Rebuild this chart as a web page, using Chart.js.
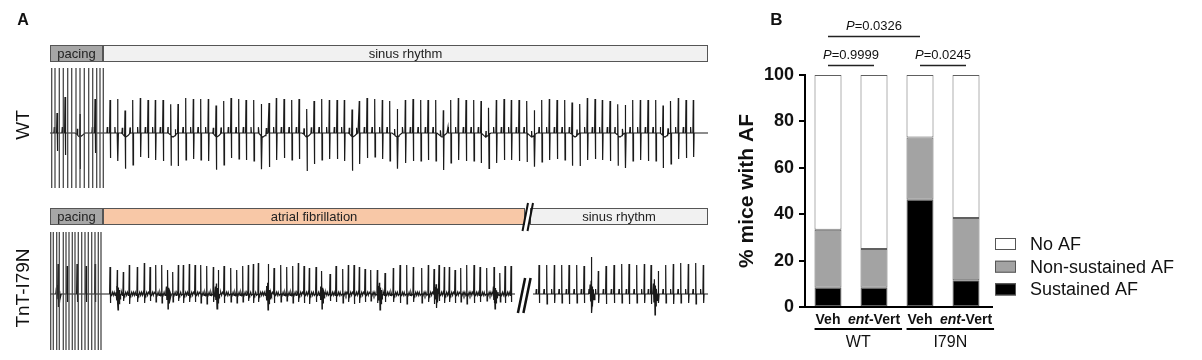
<!DOCTYPE html>
<html>
<head>
<meta charset="utf-8">
<script src="https://cdn.jsdelivr.net/npm/chart.js@4.4.1/dist/chart.umd.min.js"></script>
<style>
  body { margin: 0; background: #fff; width: 1202px; height: 360px; overflow: hidden; position: relative; }
  canvas { position: absolute; }
</style>
</head>
<body>
<canvas id="wtTrace" width="730" height="190" style="left:0;top:0;width:730px;height:190px"></canvas>
<canvas id="tntTrace" width="730" height="170" style="left:0;top:190px;width:730px;height:170px"></canvas>
<canvas id="afBars" width="472" height="360" style="left:730px;top:0;width:472px;height:360px"></canvas>
<script>
// Panel A - ECG traces (time in trace units, amplitude in trace units above baseline)
const wtPacingT = [1.7, 5, 9.3, 13.3, 17.7, 21.7, 26, 30, 34.3, 38.7, 42.7, 46.7, 50, 53.3];
const wtBeatT = [7, 15, 30, 45,
  60, 67.6, 75, 82.7, 90.3, 98, 105.3, 113, 120.7, 128, 135.7, 143.3, 150.7, 158.3, 166, 173.7, 181, 188.7, 196, 203.7,
  211.3, 219, 226.3, 234, 241.7, 249, 256.7, 264, 271.7, 279.3, 287, 294.3, 302, 309.3, 317, 324.7, 332.3, 339.7, 347.3,
  355.3, 363, 370.7, 378, 385.7, 393.3, 400.7, 408.3, 416, 423.7, 431, 438.7, 446.3, 454, 461.3, 469, 476.7, 484.3, 491.7,
  499.3, 507, 514.7, 522, 529.7, 537.3, 545, 552.3, 560, 567.7, 575.3, 582.7, 590.3, 598, 605.7, 613, 620.7, 628.3, 636, 643.3];
const wtBeatUp = [20, 36, 23, 34,
  33, 34, 26, 33, 35, 33, 33, 33, 31, 29, 35, 34, 34, 34, 31, 32, 35, 34, 33, 33, 32, 30, 35, 34, 33, 34, 28, 32, 34, 33,
  33, 33, 27, 32, 35, 34, 33, 32, 28,
  33, 34, 33, 33, 33, 26, 33, 35, 33, 33, 32, 27, 33, 34, 33, 33, 32, 25, 33, 34, 33, 33, 32, 29, 35, 34, 33, 32, 31, 28,
  33, 33, 33, 33, 30, 32, 35, 33, 33];
const wtBeatDown = [18, 22, 32, 20,
  25, 28, 32, 32, 24, 25, 27, 28, 30, 33, 27, 26, 27, 28, 33, 32, 25, 26, 27, 28, 33, 34, 27, 25, 27, 26, 34, 31, 27, 26,
  26, 28, 34, 31, 25, 24, 26, 28, 32,
  30, 28, 28, 27, 28, 34, 30, 27, 28, 28, 30, 34, 30, 27, 27, 28, 29, 32, 29, 27, 26, 27, 31, 33, 27, 26, 27, 28, 30, 35,
  28, 27, 28, 28, 32, 31, 26, 25, 24];
const wtDipT = [30, 76, 123, 167, 213, 257, 303, 347, 392, 436, 482, 525, 570, 615];

const tntPacingT = [0.7, 3.3, 6.7, 9.3, 13.3, 16, 19, 22.3, 25, 28.3, 31.7, 35, 38.3, 41.7, 45, 48.3, 51];
const tntBeatT = [8, 17, 27, 36, 45,
  60, 67.3, 73.3, 79.3, 87.3, 94.3, 100, 105.7, 111.7, 117.7, 122.7, 128.3, 133.3, 139.3, 145, 150.7, 156.7, 163.3, 168.3, 174,
  180.7, 186.7, 192.7, 198.3, 203.3, 208.3, 218.3, 224, 230.7, 236.7, 242.7, 248.3, 254, 259.3, 266, 271.7, 280, 286, 292.7, 298.3,
  304, 309.3, 315, 320.7, 327.3, 335, 343.3, 350, 356.7, 363.3,
  371.7, 378.3, 384, 389, 394.3, 399.3, 405, 410.7, 416.7, 424, 430, 436.7, 444, 450, 455, 461,
  489, 496.7, 504.3, 511.7, 519, 526.7, 534, 541.7, 548.3, 556, 564, 571.7, 579, 586.7, 594.3, 601, 608.3, 615.7, 623.3, 630.7,
  638.3, 645.7, 653.3];
const tntBeatUp = [30, 28, 30, 28, 30,
  27, 24, 22, 29, 27, 31, 27, 29, 29, 24, 22, 29, 29, 30, 29, 29, 28, 27, 24, 28, 26, 24, 28, 29, 30, 31, 30, 26, 29, 27,
  28, 31, 28, 26, 27, 23, 20, 28, 25, 29, 29, 27, 25, 24, 24, 21, 26, 29, 29, 27,
  26, 29, 25, 29, 27, 27, 24, 26, 29, 29, 27, 26, 27, 21, 28, 28,
  29, 29, 29, 29, 29, 29, 28, 37, 23, 28, 29, 30, 30, 29, 30, 29, 23, 29, 30, 31, 30, 31, 29];
const tntBeatDown = [8, 8, 8, 8, 8,
  9, 8, 7, 10, 8, 9, 7, 8, 9, 10, 8, 7, 9, 8, 8, 9, 10, 8, 7, 9, 8, 9, 8, 7, 9, 8, 10, 9, 8, 7,
  9, 8, 9, 10, 8, 9, 7, 8, 9, 8, 10, 9, 8, 7, 9, 8, 8, 9, 10, 8,
  9, 8, 10, 7, 9, 8, 9, 8, 10, 9, 8, 7, 9, 8, 9, 8,
  9, 10, 9, 9, 10, 9, 9, 12, 9, 10, 9, 9, 10, 9, 9, 10, 9, 9, 10, 9, 9, 10, 9];
const tntBurstT = [8, 68, 118, 167, 218, 272, 330, 386.7, 445, 541.7, 605];
const tntBurstDepth = [13, 16, 15, 15, 16, 15, 16, 14, 15, 19, 21];

// Panel B - stacked bars
const groups = ["WT", "I79N"];
const treatments = ["Veh", "ent-Vert", "Veh", "ent-Vert"];
const sustainedAF = [8.3, 8.3, 46.2, 11.5];
const nonSustainedAF = [25.0, 16.7, 26.9, 26.9];
const noAF = [66.7, 75.0, 26.9, 61.6];
const comparisons = [
  { from: 0, to: 2, level: 2, p: "0.0326" },
  { from: 0, to: 1, level: 1, p: "0.9999" },
  { from: 2, to: 3, level: 1, p: "0.0245" },
];

const FONT = '"Liberation Sans", Arial, Helvetica, sans-serif';
Chart.defaults.font.family = FONT;
Chart.defaults.color = '#111';

function buildTrace(beatT, beatUp, beatDown, o) {
  let pts = [{ x: 0, y: 0 }];
  beatT.forEach((t, i) => {
    const pw = o.pWave ? o.pWave(t) : 0;
    if (pw) pts.push({ x: t - 3.1, y: 0 }, { x: t - 2.7, y: pw }, { x: t - 2.3, y: 0 });
    pts.push({ x: t - 0.4, y: 0 }, { x: t, y: beatUp[i] }, { x: t + 0.35, y: -beatDown[i] }, { x: t + 0.8, y: 0 });
    const next = beatT[i + 1];
    if (o.fWaves && next && t > o.fWaves[0] && next < o.fWaves[1]) {
      let k = 0;
      for (let s = t + 1.5; s < next - 0.8; s += 0.9) pts.push({ x: s, y: k++ % 2 ? 1.8 : -1.4 });
    }
  });
  (o.dips || []).forEach((d) => pts.push({ x: d - 5, y: 0 }, { x: d - 2, y: 0 }, { x: d, y: 0 }, { x: d + 2, y: 0 }, { x: d + 5, y: 0 }));
  (o.bursts || []).forEach((b, i) => {
    const d = o.burstDepth[i];
    [[-2.2, 0], [-1.6, 0.5], [-1.1, -0.4], [-0.6, 0.7], [0, -1], [0.5, 0.4], [1.0, -0.6], [1.6, 0.25], [2.3, -0.3], [3.2, 0]]
      .forEach(([dx, k]) => pts.push({ x: b + dx, y: k * d }));
  });
  if (o.dips) {
    pts.forEach((p) => {
      o.dips.forEach((d) => {
        const u = Math.max(0, 1 - Math.abs(p.x - d) / 5);
        p.y -= o.dipDepth * u * u * (3 - 2 * u);
      });
    });
  }
  pts.push({ x: 658, y: 0 });
  if (o.gap) {
    pts = pts.filter((p) => p.x <= o.gap[0] || p.x >= o.gap[1]);
    pts.push({ x: o.gap[0], y: 0 }, { x: o.gap[0] + 0.5, y: null }, { x: o.gap[1], y: 0 });
  }
  return pts.sort((a, b) => a.x - b.x);
}

function pacingLines(times, lo, hi) {
  const pts = [];
  times.forEach((t) => pts.push({ x: t, y: lo }, { x: t, y: hi }, { x: t, y: null }));
  return pts;
}

const rhythmBar = { // Rhythm annotation bar above each trace, side label, break marks
  id: 'rhythmBar',
  afterDraw(chart, args, opts) {
    const { ctx, chartArea: a, scales: { x, y } } = chart;
    const top = a.top - 23, h = 17;
    ctx.save();
    opts.segments.forEach((s) => {
      const x0 = x.getPixelForValue(s.from), x1 = x.getPixelForValue(s.to);
      ctx.fillStyle = s.color;
      ctx.fillRect(x0, top, x1 - x0, h);
      ctx.strokeStyle = '#555';
      ctx.lineWidth = 1;
      ctx.strokeRect(x0 + 0.5, top + 0.5, x1 - x0 - 1, h - 1);
      ctx.fillStyle = '#222';
      ctx.font = '13px ' + FONT;
      ctx.textAlign = 'center';
      ctx.textBaseline = 'middle';
      ctx.fillText(s.label, (x0 + x1) / 2, top + h / 2 + 0.5);
    });
    ctx.strokeStyle = '#111';
    ctx.lineWidth = 2;
    (opts.barBreak || []).forEach((t) => {
      ctx.beginPath();
      ctx.moveTo(x.getPixelForValue(t - 2.5), top + h + 6);
      ctx.lineTo(x.getPixelForValue(t + 3), top - 5);
      ctx.stroke();
    });
    ctx.lineWidth = 2.5;
    (opts.traceBreak || []).forEach((t) => {
      ctx.beginPath();
      ctx.moveTo(x.getPixelForValue(t - 3.6), y.getPixelForValue(-19));
      ctx.lineTo(x.getPixelForValue(t + 3.6), y.getPixelForValue(16));
      ctx.stroke();
    });
    ctx.fillStyle = '#111';
    ctx.font = '19px ' + FONT;
    ctx.translate(24, (a.top + a.bottom) / 2 - 4);
    ctx.rotate(-Math.PI / 2);
    ctx.textAlign = 'center';
    ctx.textBaseline = 'middle';
    ctx.fillText(opts.label, 0, 0);
    ctx.restore();
    if (opts.panel) {
      ctx.save();
      ctx.font = 'bold 16px ' + FONT;
      ctx.fillStyle = '#111';
      ctx.textAlign = 'center';
      ctx.textBaseline = 'middle';
      ctx.fillText(opts.panel, 23, 21);
      ctx.restore();
    }
  }
};

function traceChart(id, datasets, yMin, yMax, padTop, padBottom, barOpts) {
  return new Chart(document.getElementById(id), {
    type: 'scatter',
    data: { datasets },
    options: {
      responsive: false,
      animation: false,
      layout: { padding: { top: padTop, left: 50, right: 22, bottom: padBottom } },
      scales: {
        x: { type: 'linear', display: false, min: 0, max: 658 },
        y: { display: false, min: yMin, max: yMax },
      },
      plugins: { legend: { display: false }, tooltip: { enabled: false }, rhythmBar: barOpts },
    },
    plugins: [rhythmBar],
  });
}

const lineStyle = { showLine: true, pointRadius: 0, tension: 0, spanGaps: false };

traceChart('wtTrace', [
  { ...lineStyle, data: pacingLines(wtPacingT, -55, 65), borderColor: '#4a4a4a', borderWidth: 1.3 },
  { ...lineStyle, data: buildTrace(wtBeatT, wtBeatUp, wtBeatDown, { pWave: () => 6, dips: wtDipT, dipDepth: 4 }),
    borderColor: '#1a1a1a', borderWidth: 1.2 },
], -57, 65, 68, 0, {
  label: 'WT',
  panel: 'A',
  segments: [
    { from: 0, to: 53, label: 'pacing', color: '#a6a6a6' },
    { from: 53, to: 658, label: 'sinus rhythm', color: '#f1f1f1' },
  ],
});

traceChart('tntTrace', [
  { ...lineStyle, data: pacingLines(tntPacingT, -56, 62), borderColor: '#4a4a4a', borderWidth: 1.3 },
  { ...lineStyle, data: buildTrace(tntBeatT, tntBeatUp, tntBeatDown, {
      pWave: (t) => (t > 483 ? 5 : 0), fWaves: [53, 463], bursts: tntBurstT, burstDepth: tntBurstDepth, gap: [465, 483] }),
    borderColor: '#1a1a1a', borderWidth: 1.2 },
], -59, 63, 41, 7, {
  label: 'TnT-I79N',
  segments: [
    { from: 0, to: 53, label: 'pacing', color: '#a6a6a6' },
    { from: 53, to: 475, label: 'atrial fibrillation', color: '#f8c8a7' },
    { from: 480, to: 658, label: 'sinus rhythm', color: '#f1f1f1' },
  ],
  barBreak: [475, 480],
  traceBreak: [471.5, 477],
});

function drawMixed(ctx, parts, cx, y) { // parts: [text, font]
  const widths = parts.map(([t, f]) => { ctx.font = f; return ctx.measureText(t).width; });
  const total = widths.reduce((s, w) => s + w, 0);
  let x = cx - total / 2;
  ctx.textAlign = 'left';
  parts.forEach(([t, f], i) => { ctx.font = f; ctx.fillText(t, x, y); x += widths[i]; });
  return [cx - total / 2, cx + total / 2];
}

const barAnnotations = { // P-value brackets, category and group labels, legend
  id: 'barAnnotations',
  afterDraw(chart) {
    const { ctx, chartArea: a, scales: { x } } = chart;
    ctx.save();
    ctx.fillStyle = '#111';
    ctx.strokeStyle = '#222';
    ctx.textBaseline = 'middle';

    ctx.font = 'bold 17px ' + FONT;
    ctx.textAlign = 'center';
    ctx.fillText('B', 46.5, 20);

    comparisons.forEach((c) => {
      const ly = c.level === 2 ? a.top - 38.5 : a.top - 9.5;
      const x0 = x.getPixelForValue(c.from), x1 = x.getPixelForValue(c.to);
      ctx.lineWidth = 1.5;
      ctx.beginPath();
      ctx.moveTo(x0, ly);
      ctx.lineTo(x1, ly);
      ctx.stroke();
      drawMixed(ctx, [['P', 'italic 13px ' + FONT], ['=' + c.p, '13px ' + FONT]], (x0 + x1) / 2, ly - 10);
    });

    const extents = treatments.map((t, i) => {
      const cx = x.getPixelForValue(i);
      const parts = t.startsWith('ent-')
        ? [['ent', 'italic bold 14px ' + FONT], [t.slice(3), 'bold 14px ' + FONT]]
        : [[t, 'bold 14px ' + FONT]];
      return drawMixed(ctx, parts, cx, a.bottom + 13);
    });

    groups.forEach((g, gi) => {
      const l = extents[gi * 2][0] - 1, r = extents[gi * 2 + 1][1] + 2;
      ctx.lineWidth = 2;
      ctx.strokeStyle = '#000';
      ctx.beginPath();
      ctx.moveTo(l, a.bottom + 22);
      ctx.lineTo(r, a.bottom + 22);
      ctx.stroke();
      ctx.font = '16px ' + FONT;
      ctx.textAlign = 'center';
      ctx.fillText(g, (l + r) / 2, a.bottom + 36);
    });

    // x axis line runs a little past the last bar
    ctx.strokeStyle = '#000';
    ctx.lineWidth = 2;
    ctx.beginPath();
    ctx.moveTo(a.right - 1, a.bottom);
    ctx.lineTo(a.right + 4, a.bottom);
    ctx.stroke();

    const items = chart.data.datasets.slice().reverse();
    items.forEach((ds, i) => {
      const cy = a.bottom - 63 + i * 22.7;
      const bx = a.right + 6;
      ctx.fillStyle = ds.backgroundColor;
      ctx.fillRect(bx, cy - 6, 21, 12);
      ctx.strokeStyle = '#555';
      ctx.lineWidth = 1;
      ctx.strokeRect(bx + 0.5, cy - 5.5, 20, 11);
      ctx.fillStyle = '#111';
      ctx.font = '18px ' + FONT;
      ctx.textAlign = 'left';
      ctx.fillText(ds.label, bx + 35, cy + 1);
    });
    ctx.restore();
  }
};

const barStyle = { borderColor: '#606060', borderWidth: 1, borderSkipped: false, categoryPercentage: 1, barPercentage: 0.587 };

new Chart(document.getElementById('afBars'), {
  type: 'bar',
  data: {
    labels: treatments,
    datasets: [
      { ...barStyle, label: 'Sustained AF', data: sustainedAF, backgroundColor: '#000000' },
      { ...barStyle, label: 'Non-sustained AF', data: nonSustainedAF, backgroundColor: '#a3a3a3' },
      { ...barStyle, label: 'No AF', data: noAF, backgroundColor: '#ffffff' },
    ],
  },
  options: {
    responsive: false,
    animation: false,
    layout: { padding: { top: 75, left: 0, right: 213, bottom: 53 } },
    scales: {
      x: {
        stacked: true,
        ticks: { display: false },
        grid: { display: false },
        border: { display: true, color: '#000', width: 2 },
        afterFit: (axis) => { axis.height = 0; },
      },
      y: {
        stacked: true,
        min: 0,
        max: 100,
        ticks: { stepSize: 20, padding: 5, color: '#111', font: { size: 18, weight: 'bold' } },
        grid: { drawOnChartArea: false, drawTicks: true, tickLength: 6, color: '#000', lineWidth: 2 },
        border: { display: true, color: '#000', width: 2 },
        title: { display: true, text: '% mice with AF', color: '#111', font: { size: 21, weight: 'bold' }, padding: { top: 5, bottom: 0 } },
        afterFit: (axis) => { axis.width = 75; },
      },
    },
    plugins: { legend: { display: false }, tooltip: { enabled: false } },
  },
  plugins: [barAnnotations],
});
</script>
</body>
</html>
